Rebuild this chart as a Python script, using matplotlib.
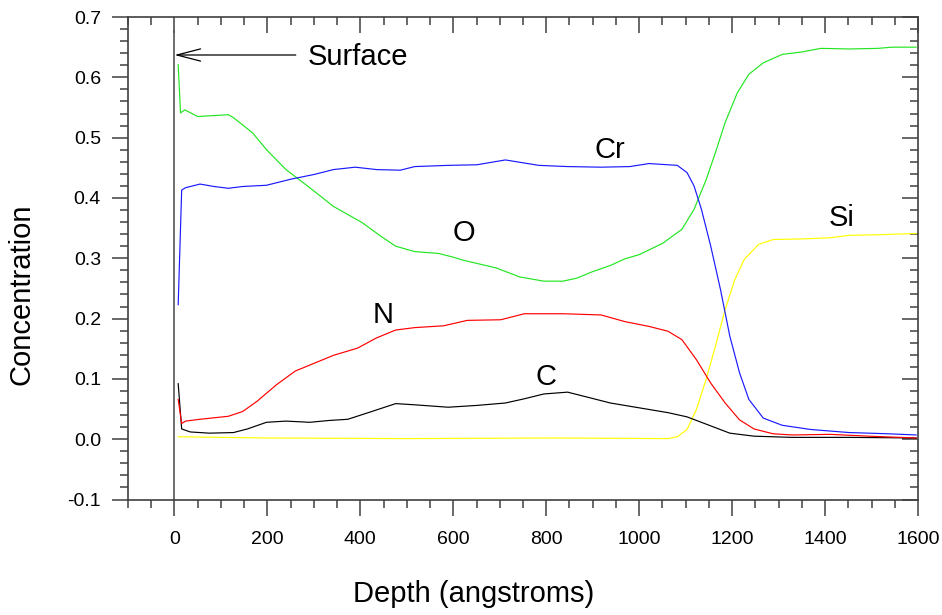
import matplotlib
matplotlib.use("Agg")
import matplotlib.pyplot as plt
from matplotlib.ticker import MultipleLocator, FormatStrFormatter

plt.rcParams['font.family'] = ['Liberation Sans', 'DejaVu Sans']
plt.rcParams['axes.unicode_minus'] = False

# ---- data ----
o_x = [8, 13, 22, 50, 116, 127, 168, 198, 240, 291, 342, 404, 445, 476, 517, 568, 599, 620,
       692, 743, 795, 836, 866, 897, 938, 969, 1000, 1051, 1092, 1118, 1144, 1164, 1185, 1211,
       1236, 1267, 1308, 1350, 1391, 1452, 1514, 1545, 1596]
o_y = [0.621, 0.541, 0.546, 0.535, 0.538, 0.533, 0.508, 0.480, 0.447, 0.417, 0.386, 0.359,
       0.336, 0.320, 0.311, 0.308, 0.302, 0.297, 0.284, 0.269, 0.262, 0.262, 0.267, 0.277,
       0.288, 0.299, 0.306, 0.325, 0.348, 0.381, 0.430, 0.475, 0.525, 0.574, 0.605, 0.624,
       0.638, 0.642, 0.648, 0.647, 0.648, 0.650, 0.650]

cr_x = [8, 15.5, 24, 55, 85, 116, 147, 198, 250, 301, 342, 389, 435, 486, 517, 589, 651, 712,
        784, 846, 918, 980, 1021, 1082, 1103, 1118, 1134, 1154, 1175, 1195, 1216, 1236, 1267,
        1308, 1370, 1452, 1535, 1596]
cr_y = [0.223, 0.413, 0.417, 0.423, 0.419, 0.416, 0.419, 0.421, 0.431, 0.439, 0.447, 0.451,
        0.447, 0.446, 0.452, 0.454, 0.455, 0.463, 0.454, 0.452, 0.451, 0.452, 0.457, 0.454,
        0.442, 0.420, 0.381, 0.320, 0.248, 0.171, 0.110, 0.066, 0.035, 0.023, 0.016, 0.011,
        0.009, 0.007]

n_x = [8, 15.5, 24, 55, 116, 147, 178, 219, 260, 301, 342, 394, 435, 476, 517, 579, 630, 702,
       753, 836, 918, 969, 1021, 1062, 1092, 1123, 1154, 1185, 1216, 1247, 1288, 1329, 1411,
       1494, 1596]
n_y = [0.066, 0.026, 0.030, 0.033, 0.038, 0.046, 0.063, 0.090, 0.113, 0.126, 0.139, 0.151,
       0.168, 0.181, 0.185, 0.188, 0.197, 0.198, 0.208, 0.208, 0.206, 0.195, 0.187, 0.179,
       0.165, 0.132, 0.093, 0.060, 0.032, 0.017, 0.009, 0.007, 0.008, 0.005, 0.002]

c_x = [8, 15.5, 34, 75, 127, 157, 198, 240, 291, 332, 373, 425, 476, 517, 589, 651, 712, 753,
       795, 846, 887, 938, 1000, 1062, 1103, 1144, 1195, 1247, 1329, 1452, 1596]
c_y = [0.092, 0.017, 0.012, 0.010, 0.011, 0.017, 0.028, 0.030, 0.028, 0.031, 0.033, 0.046,
       0.059, 0.057, 0.053, 0.056, 0.060, 0.067, 0.075, 0.078, 0.070, 0.060, 0.052, 0.044,
       0.037, 0.025, 0.010, 0.005, 0.003, 0.003, 0.002]

si_x = [8, 198, 500, 815, 1062, 1082, 1103, 1123, 1144, 1164, 1185, 1206, 1226, 1257, 1288,
        1350, 1411, 1452, 1514, 1596]
si_y = [0.004, 0.002, 0.001, 0.002, 0.001, 0.004, 0.016, 0.049, 0.099, 0.154, 0.215, 0.265,
        0.298, 0.323, 0.331, 0.332, 0.334, 0.338, 0.339, 0.341]

labels = ['Cr', 'O', 'N', 'C', 'Si']
label_x = [937, 623, 448, 799, 1436]
label_y = [0.4665, 0.328, 0.193, 0.0905, 0.353]

x_ticks_major = 200
x_ticks_minor = 50
y_ticks_major = 0.1
y_ticks_minor = 0.02

# ---- figure ----
W, H = 942, 615
fig = plt.figure(figsize=(W / 100, H / 100), dpi=100)
ax = fig.add_axes([128 / W, 1 - 499.5 / H, (918 - 128) / W, (499.5 - 17) / H])

lw = 0.85
ax.plot(si_x, si_y, color='#ffff00', lw=lw)
ax.plot(c_x, c_y, color='#000000', lw=lw)
ax.plot(n_x, n_y, color='#ff0000', lw=lw)
ax.plot(o_x, o_y, color='#22e622', lw=lw)
ax.plot(cr_x, cr_y, color='#1a1aff', lw=lw)

ax.set_xlim(-100, 1600)
ax.set_ylim(-0.1, 0.7)

# surface marker line
ax.plot([0, 0], [-0.1, 0.676], color='#555555', lw=1.2)
ax.annotate('', xy=(0, 0.637), xytext=(261, 0.637),
            arrowprops=dict(arrowstyle='->,head_length=0.85,head_width=0.22',
                            mutation_scale=20, color='black', lw=0.9,
                            shrinkA=0, shrinkB=0))
ax.text(286, 0.6196, 'Surface', fontsize=21, ha='left', va='baseline')

for t, lx, ly in zip(labels, label_x, label_y):
    ax.text(lx, ly, t, fontsize=21, ha='center', va='baseline')

spc = '#404040'
for s in ax.spines.values():
    s.set_color(spc)
    s.set_linewidth(1.2)
ax.spines['top'].set_visible(False)
ax.spines['right'].set_visible(False)

ax.xaxis.set_major_locator(MultipleLocator(x_ticks_major))
ax.xaxis.set_minor_locator(MultipleLocator(x_ticks_minor))
ax.yaxis.set_major_locator(MultipleLocator(y_ticks_major))
ax.yaxis.set_minor_locator(MultipleLocator(y_ticks_minor))
ax.yaxis.set_major_formatter(FormatStrFormatter('%.1f'))
ax.tick_params(which='major', direction='out', length=11.5, width=1.1, color=spc,
               labelsize=14, pad=8)
ax.tick_params(which='minor', direction='out', length=6, width=1.1, color=spc)
ax.tick_params(axis='x', which='major', pad=11)

sx = ax.secondary_xaxis('top')
sx.xaxis.set_major_locator(MultipleLocator(x_ticks_major))
sx.xaxis.set_minor_locator(MultipleLocator(x_ticks_minor))
sx.tick_params(which='major', direction='in', length=11.5, width=1.1, color=spc, labeltop=False)
sx.tick_params(which='minor', direction='in', length=6, width=1.1, color=spc)
sx.spines['top'].set_color(spc)
sx.spines['top'].set_linewidth(1.2)

sy = ax.secondary_yaxis('right')
sy.yaxis.set_major_locator(MultipleLocator(y_ticks_major))
sy.yaxis.set_minor_locator(MultipleLocator(y_ticks_minor))
sy.tick_params(which='major', direction='in', length=11.5, width=1.1, color=spc, labelright=False)
sy.tick_params(which='minor', direction='in', length=6, width=1.1, color=spc)
sy.spines['right'].set_color(spc)
sy.spines['right'].set_linewidth(1.2)

fig.text(21.5 / W, 1 - 294 / H, 'Concentration', rotation=90, fontsize=21,
         ha='center', va='center')
fig.text(474 / W, 1 - 601.7 / H, 'Depth (angstroms)', fontsize=21,
         ha='center', va='baseline')

fig.savefig('out.png', dpi=100)
